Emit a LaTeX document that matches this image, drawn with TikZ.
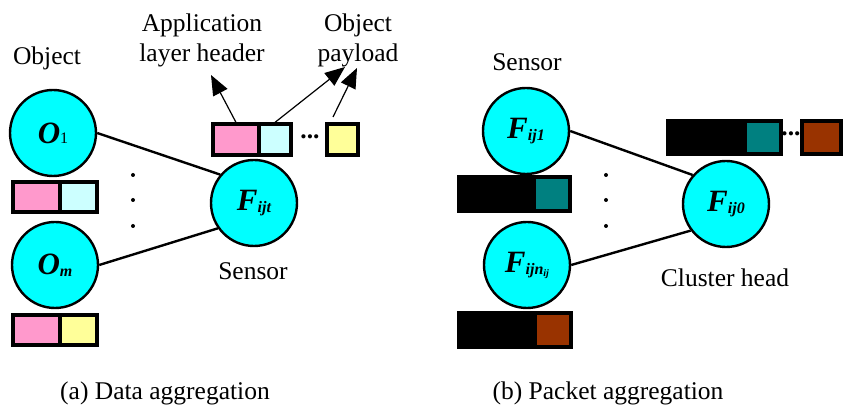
\documentclass[tikz,border=0pt]{standalone}
\usepackage{fontspec}
\setmainfont{LiberationSerif}[Extension=.ttf,UprightFont=*-Regular,BoldFont=*-Bold,ItalicFont=*-Italic,BoldItalicFont=*-BoldItalic]
\usetikzlibrary{arrows.meta}
\definecolor{devcyan}{RGB}{0,255,255}
\definecolor{hdrpink}{RGB}{255,153,204}
\definecolor{paycyan}{RGB}{204,255,255}
\definecolor{payyellow}{RGB}{255,255,153}
\definecolor{pkteal}{RGB}{0,128,128}
\definecolor{pkbrown}{RGB}{153,51,0}
\newcommand{\devname}[2]{{\fontsize{15.5}{15.5}\selectfont\bfseries\itshape #1}\raisebox{-1pt}{\fontsize{8}{8}\selectfont\bfseries\itshape #2}}
\tikzset{
  dev/.style={circle,draw,line width=1.2pt,fill=devcyan,minimum size=43pt,inner sep=0pt},
  cell/.style={draw,line width=1.6pt,inner sep=0pt},
  lbl/.style={font=\fontsize{12.75}{15}\selectfont,align=center,inner sep=0pt},
  link/.style={line width=1.2pt},
  pointer/.style={line width=0.6pt,-{Triangle[length=10pt,width=8pt]}}
}
\begin{document}
\begin{tikzpicture}[x=0.5pt,y=-0.5pt]
      \useasboundingbox (0,0) rectangle (843,410);
      % (a) data aggregation
      \node[dev] (o1) at (53,133) {{\fontsize{15.5}{15.5}\selectfont\bfseries\itshape O}{\fontsize{8}{8}\selectfont 1}};
      \node[dev] (om) at (55,265) {\devname{O}{m}};
      \node[dev] (fijt) at (254,203) {\devname{F}{ijt}};
      \draw[link] (o1.east) -- (fijt.140);
      \draw[link] (om.east) -- (fijt.215);
      \foreach \y in {175,200,226} \fill (133,\y) circle (1pt);

      \node[cell,fill=hdrpink,minimum width=23.5pt,minimum height=15pt] (o1hdr) at (36.5,197) {};
      \node[cell,fill=paycyan,minimum width=18.5pt,minimum height=15pt] (o1pay) at (78.5,197) {};
      \node[cell,fill=hdrpink,minimum width=23.5pt,minimum height=15pt] (omhdr) at (36.5,330) {};
      \node[cell,fill=payyellow,minimum width=18.5pt,minimum height=15pt] (ompay) at (78.5,330) {};

      \node[cell,fill=hdrpink,minimum width=23pt,minimum height=15.5pt] (aggrhdr) at (236,139.5) {};
      \node[cell,fill=paycyan,minimum width=16pt,minimum height=15.5pt] (aggrpay) at (275,139.5) {};
      \node[lbl] (aggrdots) at (310,137) {\textbf{...}};
      \node[cell,fill=payyellow,minimum width=15.5pt,minimum height=15.5pt] (aggrlast) at (342.5,139.5) {};

      \node[lbl] (objlbl) at (47,58) {Object};
      \node[lbl] (hdrlbl) at (202,40) {Application\\layer header};
      \node[lbl] (paylbl) at (358,40) {Object\\payload};
      \node[lbl] (senslbl) at (253,271) {Sensor};
      \coordinate (hdrtip) at (211,75);
      \coordinate (paytip) at (345,67);
      \coordinate (lasttip) at (357,68);
      \coordinate (laststart) at (333,117);
      \draw[pointer] (aggrhdr.north) -- (hdrtip);
      \draw[pointer] (aggrpay.north) -- (paytip);
      \draw[pointer] (laststart) -- (lasttip);

      % (b) packet aggregation
      \node[dev] (fij1) at (526,131) {\devname{F}{ij1}};
      \node[dev] (fijn) at (527,265) {\devname{F}{ijn\raisebox{-1pt}{\fontsize{5}{5}\selectfont ij}}};
      \node[dev] (fij0) at (726,204) {\devname{F}{ij0}};
      \draw[link] (fij1.east) -- (fij0.139);
      \draw[link] (fijn.east) -- (fij0.217);
      \foreach \y in {175,200,226} \fill (606,\y) circle (1pt);

      \node[cell,fill=black,minimum width=37.5pt,minimum height=17pt] (f1hdr) at (496.5,194) {};
      \node[cell,fill=pkteal,minimum width=18pt,minimum height=17pt] (f1pay) at (552,194) {};
      \node[cell,fill=black,minimum width=38pt,minimum height=17pt] (fnhdr) at (497,330) {};
      \node[cell,fill=pkbrown,minimum width=18pt,minimum height=17pt] (fnpay) at (553,330) {};

      \node[cell,fill=black,minimum width=38.5pt,minimum height=16.5pt] (pkhdr) at (706.5,137.5) {};
      \node[cell,fill=pkteal,minimum width=18pt,minimum height=16.5pt] (pkfirst) at (763,137.5) {};
      \node[lbl] (pkdots) at (791,134) {\textbf{...}};
      \node[cell,fill=pkbrown,minimum width=19.5pt,minimum height=16.5pt] (pklast) at (821.5,137.5) {};

      \node[lbl] (sens2lbl) at (527,62) {Sensor};
      \node[lbl] (headlbl) at (725,278) {Cluster head};

      \node[lbl] (capa) at (165,393) {(a) Data aggregation};
      \node[lbl] (capb) at (608,393) {(b) Packet aggregation};
\end{tikzpicture}
\end{document}
